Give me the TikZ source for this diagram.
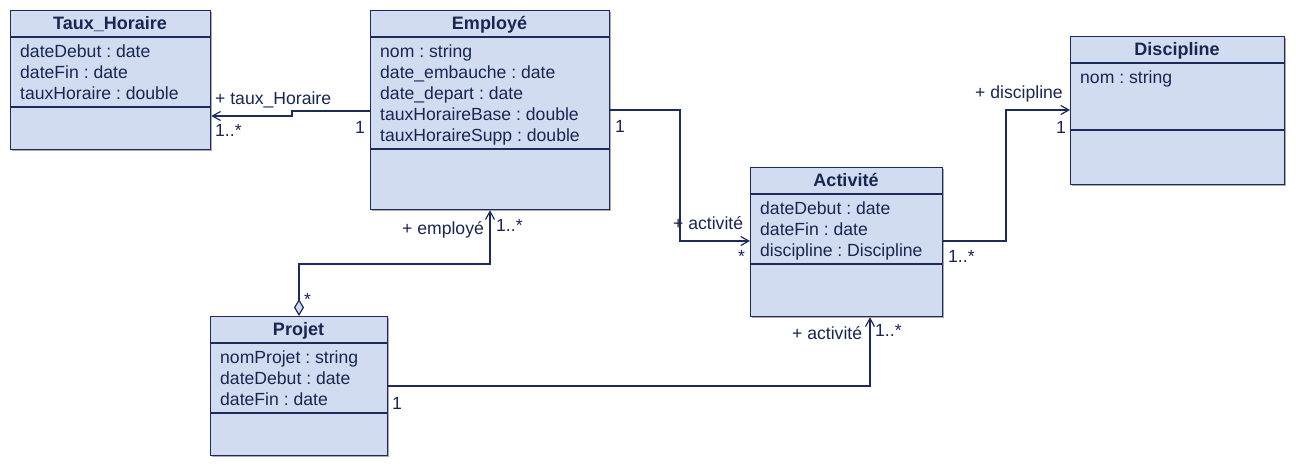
\documentclass[tikz,border=0pt]{standalone}
\usepackage{fontspec}
\setmainfont{Liberation Sans}
\usetikzlibrary{arrows.meta}
\frenchspacing
\definecolor{boxc}{RGB}{209,220,240}
\definecolor{linec}{RGB}{28,42,92}
\definecolor{txtc}{RGB}{24,38,84}
\definecolor{shadc}{RGB}{170,170,175}
\tikzset{
  umlbox/.style={draw=linec, fill=boxc, line width=1.3pt, rectangle, inner sep=0pt, anchor=north west},
  shad/.style={fill=shadc, draw=none},
  hdr/.style={font=\fontsize{18pt}{21pt}\selectfont\bfseries, text=txtc, inner sep=0pt, anchor=base},
  attr/.style={font=\fontsize{17.6pt}{21pt}\selectfont, text=txtc, inner sep=0pt, anchor=base west},
  lbl/.style={font=\fontsize{17.6pt}{21pt}\selectfont, text=txtc, inner sep=0pt, anchor=base west},
  sep/.style={draw=linec, line width=1.3pt},
  assoc/.style={draw=linec, line width=1.3pt, -{Straight Barb[length=8pt,width=9pt,line width=1.2pt]}},
  aggr/.style={draw=linec, line width=1.3pt, {Diamond[length=17pt,width=10pt,fill=boxc,line width=1.2pt]}-{Straight Barb[length=8pt,width=9pt,line width=1.2pt]}}
}
\begin{document}
\begin{tikzpicture}[x=1pt,y=-1pt]
\useasboundingbox (0,0) rectangle (1296,467);
% shadows
\fill[shad] (12,12) rectangle (212,151);
\fill[shad] (372,12) rectangle (611,211);
\fill[shad] (1072,38) rectangle (1286,186);
\fill[shad] (752,169) rectangle (944,318);
\fill[shad] (212,318) rectangle (389,457);
% Taux_Horaire
\node[umlbox, minimum width=200pt, minimum height=139pt] (th) at (10,10) {};
\draw[sep] (10,37) -- (210,37);
\draw[sep] (10,107) -- (210,107);
\node[hdr] (thh) at (110,29) {Taux\_Horaire};
\node[attr] (th1) at (20,57) {dateDebut : date};
\node[attr] (th2) at (20,78) {dateFin : date};
\node[attr] (th3) at (20,99) {tauxHoraire : double};
% Employe
\node[umlbox, minimum width=239pt, minimum height=199pt] (emp) at (370,10) {};
\draw[sep] (370,37) -- (609,37);
\draw[sep] (370,149) -- (609,149);
\node[hdr] (emph) at (489.5,29) {Employé};
\node[attr] (e1) at (380,57) {nom : string};
\node[attr] (e2) at (380,78) {date\_embauche : date};
\node[attr] (e3) at (380,99) {date\_depart : date};
\node[attr] (e4) at (380,120) {tauxHoraireBase : double};
\node[attr] (e5) at (380,141) {tauxHoraireSupp : double};
% Discipline
\node[umlbox, minimum width=214pt, minimum height=148pt] (dis) at (1070,36) {};
\draw[sep] (1070,63) -- (1284,63);
\draw[sep] (1070,130) -- (1284,130);
\node[hdr] (dish) at (1177,55) {Discipline};
\node[attr] (d1) at (1080,83) {nom : string};
% Activite
\node[umlbox, minimum width=192pt, minimum height=149pt] (act) at (750,167) {};
\draw[sep] (750,194) -- (942,194);
\draw[sep] (750,264) -- (942,264);
\node[hdr] (acth) at (846,186) {Activité};
\node[attr] (a1) at (760,214) {dateDebut : date};
\node[attr] (a2) at (760,235) {dateFin : date};
\node[attr] (a3) at (760,256) {discipline : Discipline};
% Projet
\node[umlbox, minimum width=177pt, minimum height=139pt] (prj) at (210,316) {};
\draw[sep] (210,343) -- (387,343);
\draw[sep] (210,413) -- (387,413);
\node[hdr] (prjh) at (298.5,335) {Projet};
\node[attr] (p1) at (220,363) {nomProjet : string};
\node[attr] (p2) at (220,384) {dateDebut : date};
\node[attr] (p3) at (220,405) {dateFin : date};
% connectors
\draw[assoc] (emp.west |- 0,111) -| (292,116) -- (th.east |- 0,116);
\draw[assoc] (emp.east |- 0,110) -| (680,241) -- (act.west |- 0,241);
\draw[aggr] (prj.north -| 299,0) |- (490,264) -- (emp.south -| 490,0);
\draw[assoc] (act.east |- 0,241) -| (1006,110) -- (dis.west |- 0,110);
\draw[assoc] (prj.east |- 0,386) -| (act.south -| 870,0);
% labels
\node[lbl] (l1) at (215,104) {+ taux\_Horaire};
\node[lbl] (l2) at (215,136) {1..*};
\node[lbl] (l3) at (355,133) {1};
\node[lbl] (l4) at (615,132) {1};
\node[lbl] (l5) at (673,229) {+ activité};
\node[lbl] (l6) at (738,262) {*};
\node[lbl] (l7) at (402,234) {+ employé};
\node[lbl] (l8) at (496,231) {1..*};
\node[lbl] (l9) at (304,305) {*};
\node[lbl] (l10) at (975,98) {+ discipline};
\node[lbl] (l11) at (1056,133) {1};
\node[lbl] (l12) at (948,262) {1..*};
\node[lbl] (l13) at (792,339) {+ activité};
\node[lbl] (l14) at (875,336) {1..*};
\node[lbl] (l15) at (392,409) {1};
\end{tikzpicture}
\end{document}
